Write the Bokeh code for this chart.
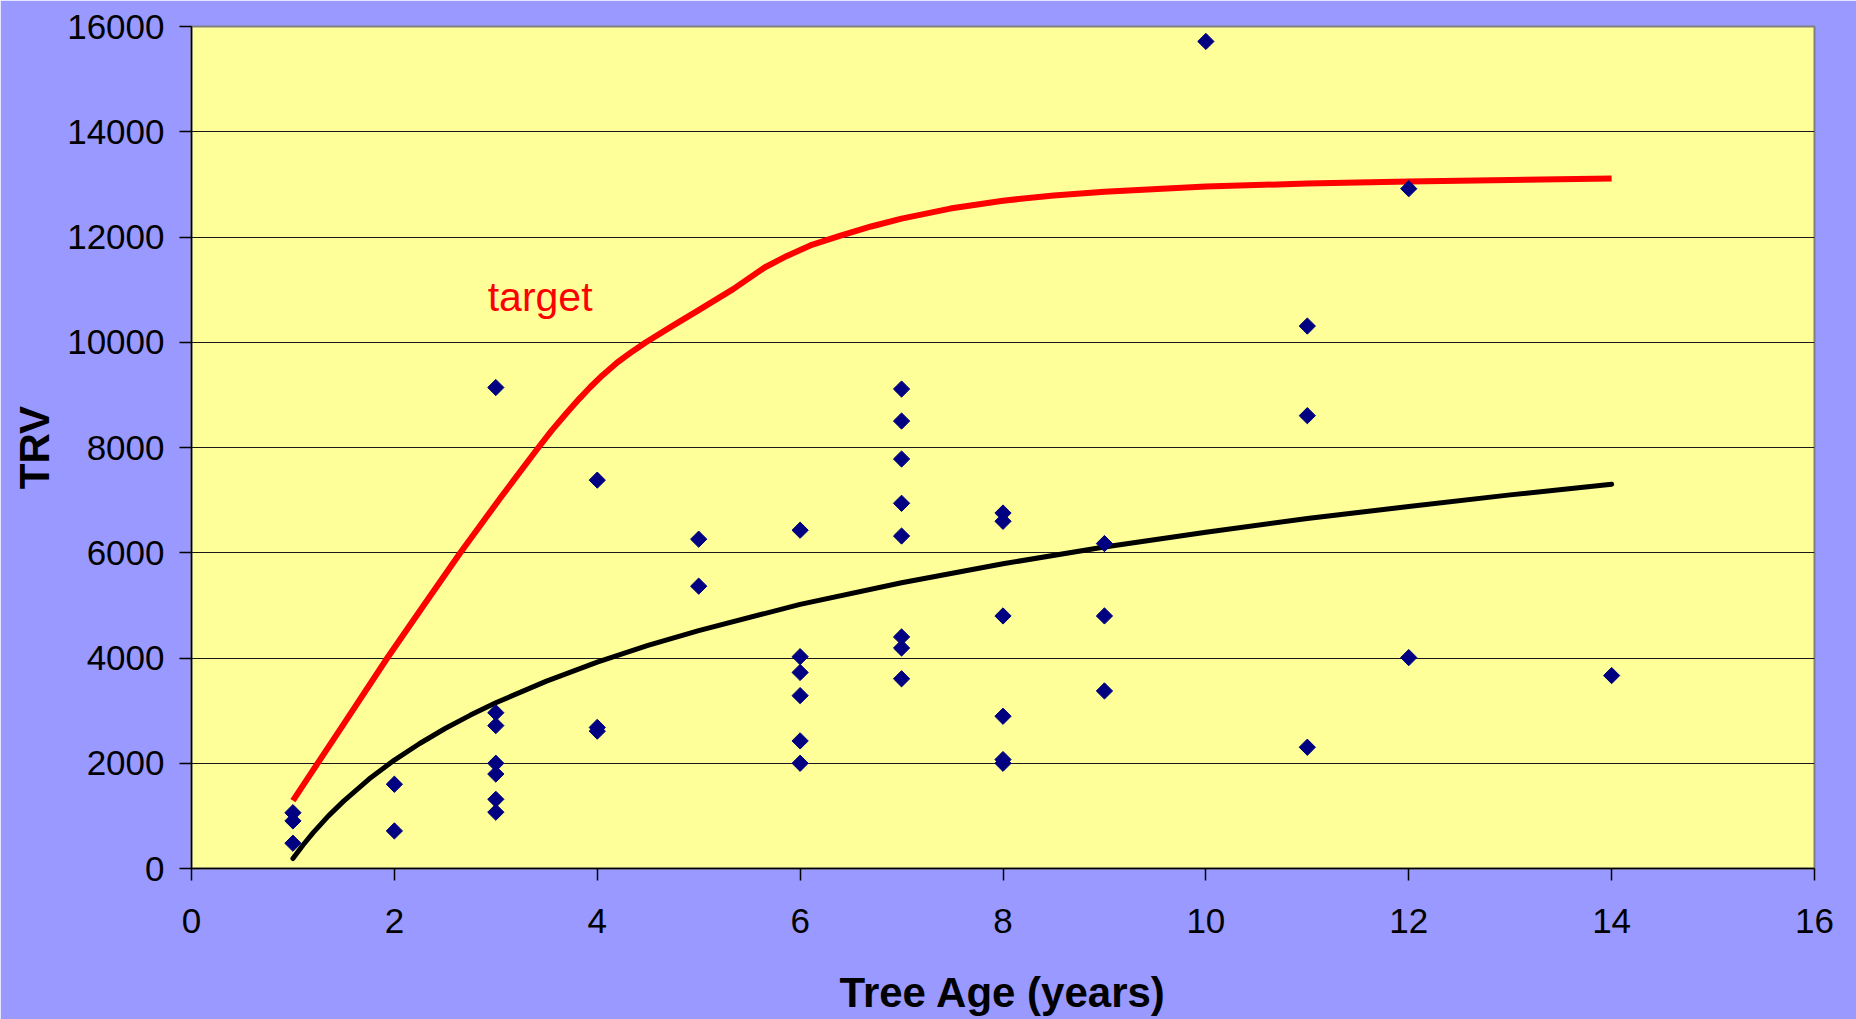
import math
from bokeh.plotting import figure
from bokeh.models import Range1d, FixedTicker, Label
from bokeh.embed import file_html
from bokeh.resources import INLINE

# ---- data: observed tree values ----
age = [1, 1, 1,
       2, 2,
       3, 3, 3, 3, 3, 3, 3,
       4, 4, 4,
       5, 5,
       6, 6, 6, 6, 6, 6,
       7, 7, 7, 7, 7, 7, 7, 7,
       8, 8, 8, 8, 8, 8,
       9, 9, 9,
       10,
       11, 11, 11,
       12, 12,
       14]
trv = [1060, 904, 480,
       1601, 714,
       9140, 2960, 2715, 2000, 1795, 1315, 1070,
       7380, 2680, 2610,
       6258, 5365,
       6428, 4025, 3725, 3285, 2425, 2000,
       9111, 8503, 7781, 6940, 6318, 4400, 4190, 3605,
       6755, 6598, 4799, 2893, 2070, 2000,
       6174, 4799, 3374,
       15716,
       10308, 8605, 2304,
       12918, 4008,
       3666]

# ---- fitted trend ----
fit_age = [1.0, 1.1, 1.2, 1.35, 1.5, 1.75, 2.0, 2.25, 2.5, 2.75, 3.0, 3.5, 4.0,
           4.5, 5, 6, 7, 8, 9, 10, 11, 12, 13, 14]
fit_trv = [190, 447, 681, 1000, 1280, 1700, 2060, 2375, 2660, 2915, 3150, 3560,
           3920, 4240, 4520, 5020, 5430, 5790, 6110, 6390, 6650, 6880, 7100, 7300]

# ---- target curve ----
tgt_age = [1, 1.5, 1.93, 2.3, 2.65, 3.05, 3.42, 3.55, 3.7, 3.82, 3.93, 4.05, 4.2,
           4.35, 4.48, 4.75, 5.0, 5.34, 5.65, 5.87, 6.1, 6.39, 6.7, 7.0, 7.48, 8,
           8.5, 9, 10, 11, 12, 13, 14]
tgt_trv = [1290, 2745, 4000, 5030, 6000, 7055, 8000, 8320, 8660, 8920, 9145, 9370,
           9620, 9830, 10000, 10320, 10610, 11009, 11421, 11640, 11840, 12020,
           12200, 12350, 12540, 12690, 12790, 12860, 12960, 13015, 13055, 13085,
           13110]

x_ticks = [0, 2, 4, 6, 8, 10, 12, 14, 16]
y_ticks = [0, 2000, 4000, 6000, 8000, 10000, 12000, 14000, 16000]

FONT = "Liberation Sans"

p = figure(width=1856, height=1019, output_backend="svg", toolbar_location=None,
           x_range=Range1d(0, 16), y_range=Range1d(0, 16000),
           min_border_left=191, min_border_right=42, min_border_top=26,
           min_border_bottom=151)

p.border_fill_color = "#9999FF"
p.background_fill_color = "#FFFF99"
p.outline_line_color = "#808080"
p.outline_line_width = 2

p.xgrid.grid_line_color = None
p.ygrid.grid_line_color = "#1a1a1a"
p.ygrid.grid_line_width = 1

p.xaxis.ticker = FixedTicker(ticks=x_ticks)
p.yaxis.ticker = FixedTicker(ticks=y_ticks)

for ax in (p.xaxis[0], p.yaxis[0]):
    ax.axis_line_color = "black"
    ax.axis_line_width = 1.5
    ax.major_tick_line_color = "black"
    ax.major_tick_line_width = 1.5
    ax.major_tick_in = 0
    ax.major_tick_out = 12
    ax.minor_tick_line_color = None
    ax.major_label_text_font = FONT
    ax.major_label_text_font_size = "35px"
    ax.major_label_text_color = "black"
    ax.axis_label_text_font = FONT
    ax.axis_label_text_font_size = "42px"
    ax.axis_label_text_font_style = "bold"
    ax.axis_label_text_color = "black"

p.xaxis.axis_label = "Tree Age (years)"
p.yaxis.axis_label = "TRV"
p.xaxis.major_label_standoff = 28
p.yaxis.major_label_standoff = 15
p.xaxis.axis_label_standoff = 33
p.yaxis.axis_label_standoff = 6

p.line(tgt_age, tgt_trv, line_color="#FF0000", line_width=6, line_cap="butt",
       line_join="round")
p.line(fit_age, fit_trv, line_color="black", line_width=5, line_cap="round",
       line_join="round")
p.scatter(age, trv, marker="square", angle=math.pi / 4, size=11.5,
          fill_color="#000080", line_color="#000080", line_width=1)

p.add_layout(Label(x=2.92, y=10855, text="target", text_color="#FF0000",
                   text_font=FONT, text_font_size="41px",
                   text_baseline="alphabetic", text_align="left"))

open("out.html", "w").write(file_html(p, INLINE))
